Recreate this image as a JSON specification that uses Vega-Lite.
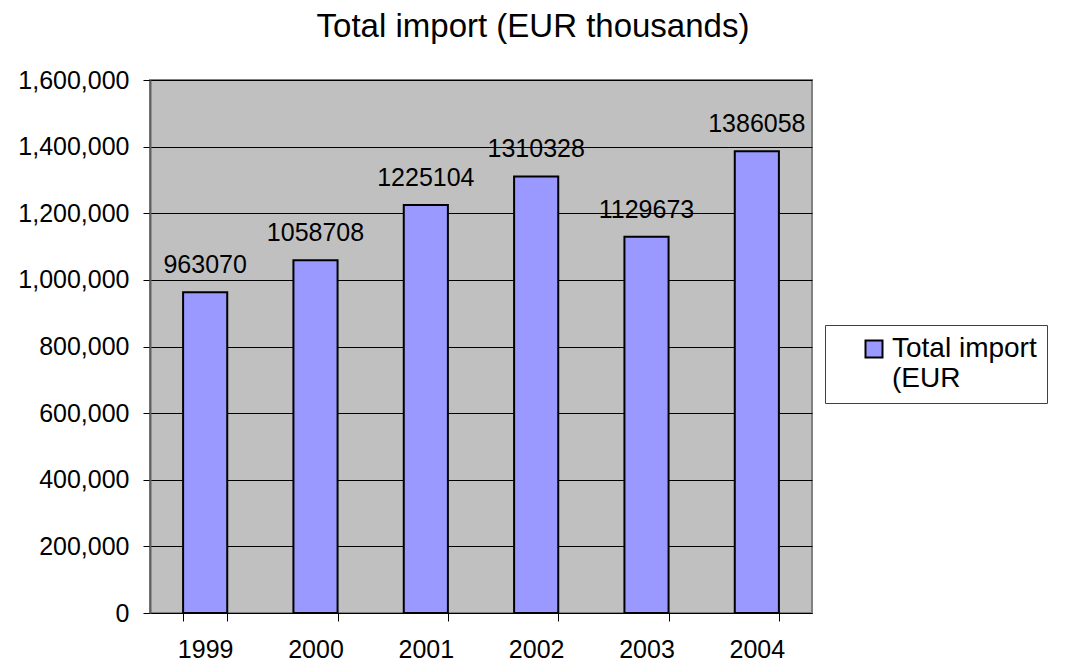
{
  "$schema": "https://vega.github.io/schema/vega-lite/v6.json",
  "autosize": {"type": "none"},
  "padding": {"left": 150, "top": 80, "right": 255, "bottom": 52},
  "width": 662,
  "height": 533,
  "background": "white",
  "title": {"text": "Total import (EUR thousands)", "fontSize": 33, "font": "Liberation Sans", "fontWeight": "normal", "color": "black", "dx": 52, "offset": -2, "baseline": "alphabetic", "anchor": "middle"},
  "config": {
    "view": {"fill": "#C0C0C0", "stroke": "#808080", "strokeWidth": 2},
    "font": "Liberation Sans"
  },
  "data": {"values": [
    {"year": "1999", "value": 963070, "series": "Total import (EUR thousands)"},
    {"year": "2000", "value": 1058708, "series": "Total import (EUR thousands)"},
    {"year": "2001", "value": 1225104, "series": "Total import (EUR thousands)"},
    {"year": "2002", "value": 1310328, "series": "Total import (EUR thousands)"},
    {"year": "2003", "value": 1129673, "series": "Total import (EUR thousands)"},
    {"year": "2004", "value": 1386058, "series": "Total import (EUR thousands)"}
  ]},
  "encoding": {
    "x": {"field": "year", "type": "nominal",
      "scale": {"paddingInner": 0.6, "paddingOuter": 0.3},
      "axis": {"title": null, "labelAngle": 0, "labelFontSize": 25, "labelColor": "black", "labelPadding": 16, "tickBand": "extent", "tickColor": "black", "tickSize": 8, "domainColor": "black", "domainWidth": 1, "grid": false}},
    "y": {"field": "value", "type": "quantitative",
      "scale": {"domain": [0, 1600000], "nice": false},
      "axis": {"title": null, "tickCount": 8, "format": ",.0f", "formatType": "number", "labelFontSize": 25, "labelColor": "black", "labelPadding": 14, "tickColor": "black", "tickSize": 7, "domainColor": "#606060", "domainWidth": 2, "grid": true, "gridColor": "black", "gridWidth": 1, "gridOpacity": 1}}
  },
  "layer": [
    {"mark": {"type": "bar", "stroke": "black", "strokeWidth": 2},
     "encoding": {"color": {"field": "series", "type": "nominal",
        "scale": {"range": ["#9999FF"]},
        "legend": {"title": null, "orient": "none", "legendX": 675, "legendY": 245,
          "strokeColor": "#404040", "fillColor": "white", "padding": 10,
          "symbolType": "square", "symbolSize": 289, "symbolStrokeColor": "black", "symbolStrokeWidth": 2, "symbolOffset": 25,
          "labelFontSize": 28, "labelLineHeight": 35, "labelOffset": 4, "labelColor": "black", "labelLimit": 500,
          "labelExpr": "['Total import                              ', '(EUR']"}}}},
    {"mark": {"type": "text", "baseline": "alphabetic", "dy": -19, "fontSize": 25, "color": "black"},
     "encoding": {"text": {"field": "value", "type": "quantitative", "format": "d"}}}
  ]
}
